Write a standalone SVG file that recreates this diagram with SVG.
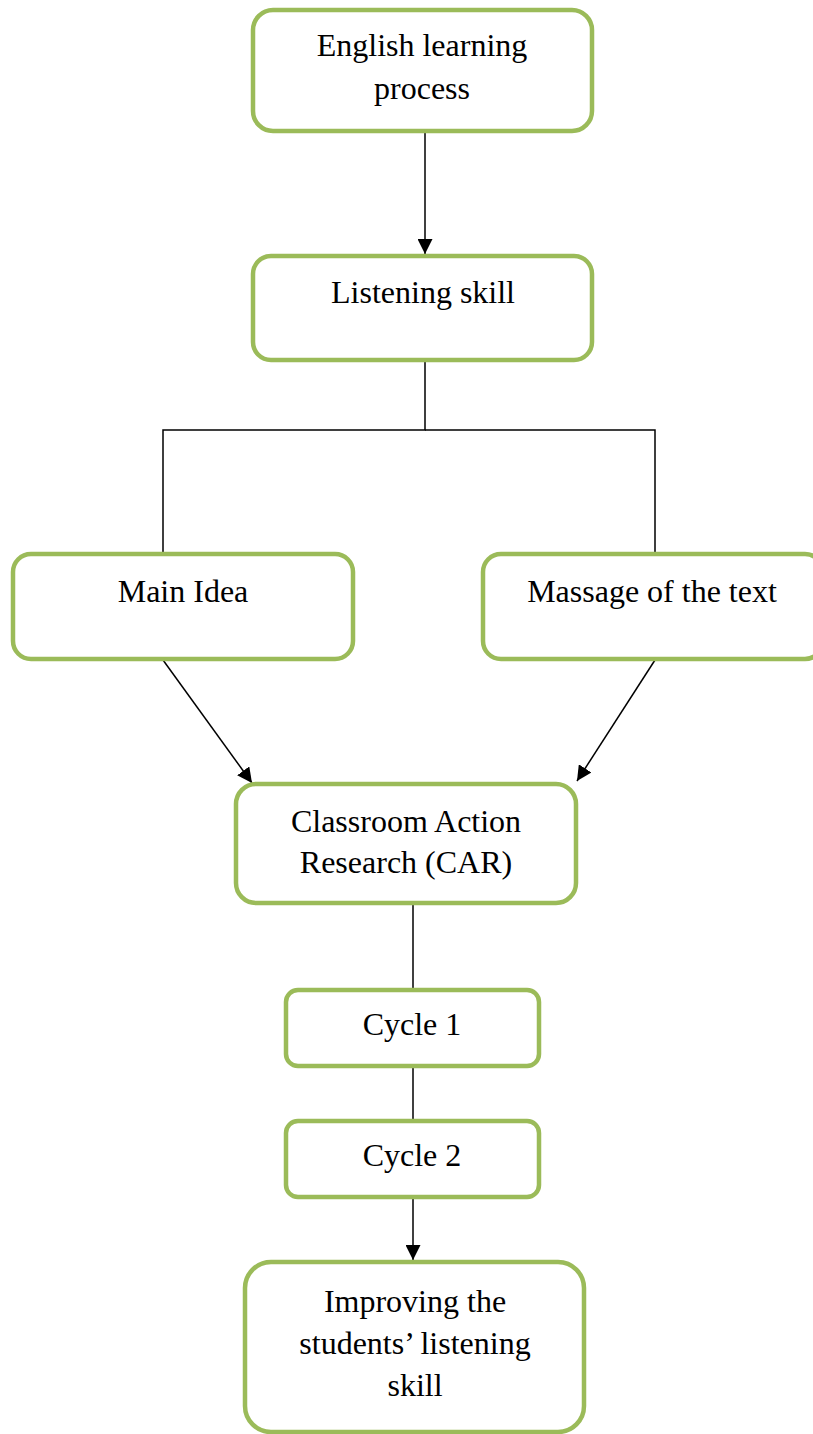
<svg xmlns="http://www.w3.org/2000/svg" width="813" height="1434" viewBox="0 0 813 1434">
<style>
.box{fill:#fff;stroke:#9BBB59;stroke-width:4.5}
.t{font-family:"Liberation Serif","Times New Roman",serif;font-size:32px;fill:#000;text-anchor:middle}
.c{stroke:#000;stroke-width:1.5;fill:none}
</style>
<defs>
<marker id="ahb" viewBox="0 0 10 10" refX="10" refY="5" markerWidth="15" markerHeight="15" markerUnits="userSpaceOnUse" orient="auto">
<path d="M0,0 L10,5 L0,10 z" fill="#000"/>
</marker>
</defs>
<rect width="813" height="1434" fill="#fff"/>
<g id="connectors">
<line class="c" x1="425" y1="133" x2="425" y2="254" marker-end="url(#ahb)"/>
<polyline class="c" points="425,362 425,430 163,430 163,552"/>
<polyline class="c" points="425,430 655,430 655,552"/>
<line class="c" x1="163" y1="660" x2="252" y2="783" marker-end="url(#ahb)"/>
<line class="c" x1="655" y1="660" x2="577" y2="781" marker-end="url(#ahb)"/>
<line class="c" x1="413" y1="905" x2="413" y2="988"/>
<line class="c" x1="413" y1="1068" x2="413" y2="1119"/>
<line class="c" x1="413" y1="1199" x2="413" y2="1260" marker-end="url(#ahb)"/>
</g>
<g id="n1">
<rect class="box" x="253" y="10" width="339" height="121" rx="20"/>
<text class="t" x="422" y="56">English learning</text>
<text class="t" x="422" y="99">process</text>
</g>
<g id="n2">
<rect class="box" x="253" y="256" width="339" height="104" rx="18"/>
<text class="t" x="423" y="303">Listening skill</text>
</g>
<g id="n3">
<rect class="box" x="13" y="554" width="340" height="105" rx="18"/>
<text class="t" x="183" y="602">Main Idea</text>
</g>
<g id="n4">
<rect class="box" x="483" y="554" width="340" height="105" rx="18"/>
<text class="t" x="652" y="602">Massage of the text</text>
</g>
<g id="n5">
<rect class="box" x="236" y="784" width="340" height="119" rx="20"/>
<text class="t" x="406" y="832">Classroom Action</text>
<text class="t" x="406" y="873">Research (CAR)</text>
</g>
<g id="n6">
<rect class="box" x="286" y="990" width="253" height="76" rx="12"/>
<text class="t" x="412" y="1035">Cycle 1</text>
</g>
<g id="n7">
<rect class="box" x="286" y="1121" width="253" height="76" rx="12"/>
<text class="t" x="412" y="1166">Cycle 2</text>
</g>
<g id="n8">
<rect class="box" x="245" y="1262" width="339" height="170" rx="26"/>
<text class="t" x="415" y="1312">Improving the</text>
<text class="t" x="415" y="1354">students’ listening</text>
<text class="t" x="415" y="1396">skill</text>
</g>
</svg>
